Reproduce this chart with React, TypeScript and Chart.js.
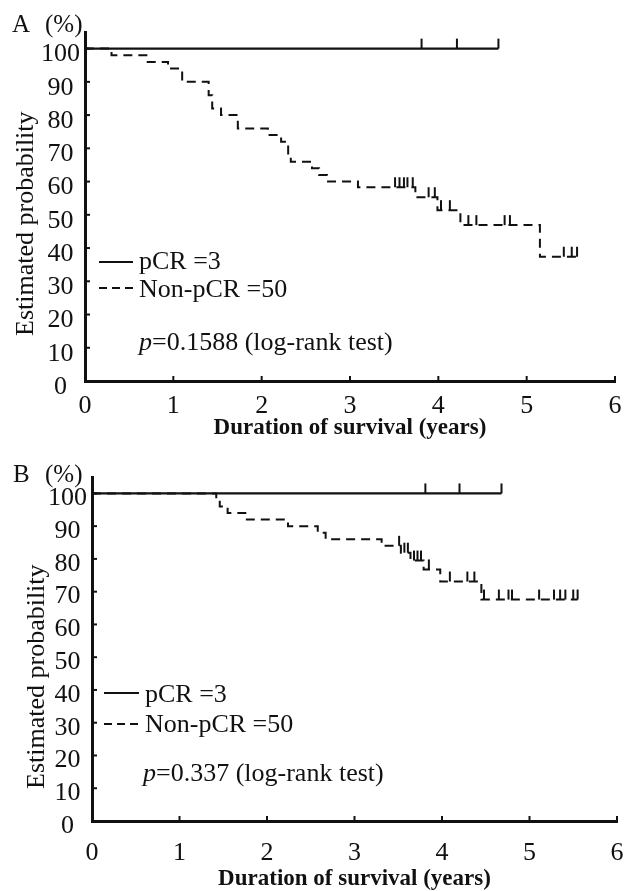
import React, { useEffect, useRef } from 'react';
import { Chart, registerables } from 'chart.js';

Chart.register(...registerables);

// ---------------- data ----------------
const xMin = 0;
const xMax = 6;
const yMin = 0;
const yMax = 105;
const xStep = 1;
const yStep = 10;

const xAxisTitle = 'Duration of survival (years)';
const yAxisTitle = 'Estimated probability';
const legendLabels = ['pCR =3', 'Non-pCR =50'];

// Panel A
const pcrTimesA = [0, 4.68];
const pcrSurvA = [100, 100];
const pcrCensorA = [3.81, 4.21, 4.68];
const nonPcrTimesA = [0, 0.3, 0.71, 0.94, 1.1, 1.4, 1.44, 1.54, 1.73, 2.07, 2.22, 2.3, 2.33, 2.57, 2.65, 2.74, 3.09, 3.74, 3.99, 4.25, 5.15, 5.57];
const nonPcrSurvA = [100, 98, 96, 94, 90, 86, 82, 80, 76, 74, 72, 68, 66, 64, 62, 60, 58.3, 55.3, 51.4, 46.9, 37.4, 37.4];
const nonPcrCensorA = [3.51, 3.56, 3.61, 3.65, 3.71, 3.89, 3.96, 4.03, 4.13, 4.34, 4.43, 4.75, 4.81, 5.42, 5.51, 5.57];
const pValueA = '0.1588';

// Panel B
const pcrTimesB = [0, 4.68];
const pcrSurvB = [100, 100];
const pcrCensorB = [3.81, 4.2, 4.68];
const nonPcrTimesB = [0, 1.42, 1.46, 1.55, 1.77, 2.24, 2.58, 2.67, 3.31, 3.53, 3.64, 3.79, 3.98, 4.45, 5.55];
const nonPcrSurvB = [100, 98, 96, 94, 92, 90, 88, 86, 84, 81.9, 79.5, 76.8, 73.1, 67.6, 67.6];
const nonPcrCensorB = [3.51, 3.57, 3.61, 3.68, 3.72, 3.76, 3.85, 4.09, 4.29, 4.37, 4.48, 4.65, 4.76, 4.8, 5.11, 5.28, 5.35, 5.41, 5.5, 5.55];
const pValueB = '0.337';

// ---------------- styling ----------------
const FONT = '"Liberation Serif", "Times New Roman", serif';
const INK = '#111';
const TXT = 26;

type PanelSpec = {
  letter: string;
  top: number;
  w: number;
  h: number;
  padTop: number;
  padRight: number;
  yWidth: number;
  xHeight: number;
  xTickPad: number;
  titlePad: number;
  yLabelOffset: number;
  pcrTimes: number[];
  pcrSurv: number[];
  pcrCensor: number[];
  nonTimes: number[];
  nonSurv: number[];
  nonCensor: number[];
};

const panelA: PanelSpec = {
  letter: 'A', top: 0, w: 631, h: 445, padTop: 32, padRight: 12, yWidth: 85, xHeight: 64,
  xTickPad: 9.5, titlePad: 5.5, yLabelOffset: 6,
  pcrTimes: pcrTimesA, pcrSurv: pcrSurvA, pcrCensor: pcrCensorA,
  nonTimes: nonPcrTimesA, nonSurv: nonPcrSurvA, nonCensor: nonPcrCensorA,
};
const panelB: PanelSpec = {
  letter: 'B', top: 445, w: 640, h: 446, padTop: 32, padRight: 13, yWidth: 92, xHeight: 70,
  xTickPad: 16.5, titlePad: 0, yLabelOffset: 5,
  pcrTimes: pcrTimesB, pcrSurv: pcrSurvB, pcrCensor: pcrCensorB,
  nonTimes: nonPcrTimesB, nonSurv: nonPcrSurvB, nonCensor: nonPcrCensorB,
};

function survAt(times: number[], surv: number[], t: number) {
  let v = surv[0];
  for (let i = 0; i < times.length; i++) if (times[i] <= t) v = surv[i];
  return v;
}

function curvePoints(times: number[], surv: number[]) {
  return times.map((t, i) => ({ x: t, y: surv[i] }));
}

function censorPoints(times: number[], surv: number[], cens: number[]) {
  return cens.map((t) => ({ x: t, y: survAt(times, surv, t) }));
}

let tickImg: HTMLCanvasElement | null = null;
function getTickImg() {
  if (tickImg) return tickImg;
  const c = document.createElement('canvas');
  c.width = 4;
  c.height = 22;
  const g = c.getContext('2d')!;
  g.fillStyle = INK;
  g.fillRect(1, 1, 2, 10);
  tickImg = c;
  return c;
}

const innerTicks = {
  id: 'innerTicks',
  afterDatasetsDraw(chart: any) {
    const { ctx, chartArea, scales } = chart;
    ctx.save();
    ctx.strokeStyle = INK;
    ctx.lineWidth = 2;
    scales.x.ticks.forEach((t: any) => {
      const px = scales.x.getPixelForValue(t.value);
      ctx.beginPath();
      ctx.moveTo(px, chartArea.bottom);
      ctx.lineTo(px, chartArea.bottom - 5);
      ctx.stroke();
    });
    scales.y.ticks.forEach((t: any) => {
      const py = scales.y.getPixelForValue(t.value);
      ctx.beginPath();
      ctx.moveTo(chartArea.left, py);
      ctx.lineTo(chartArea.left + 5, py);
      ctx.stroke();
    });
    ctx.restore();
  },
};

function buildConfig(p: PanelSpec): any {
  const img = getTickImg();
  const tickFont = { family: FONT, size: TXT };
  return {
    type: 'line',
    data: {
      datasets: [
        {
          label: legendLabels[0],
          data: curvePoints(p.pcrTimes, p.pcrSurv),
          borderColor: INK,
          borderWidth: 2.3,
          stepped: 'before',
          pointRadius: 0,
          fill: false,
          clip: false,
        },
        {
          label: legendLabels[1],
          data: curvePoints(p.nonTimes, p.nonSurv),
          borderColor: INK,
          borderWidth: 2,
          borderDash: [9, 6],
          borderCapStyle: 'butt',
          stepped: 'before',
          pointRadius: 0,
          fill: false,
          clip: false,
        },
        {
          label: 'pCR censored',
          data: censorPoints(p.pcrTimes, p.pcrSurv, p.pcrCensor),
          showLine: false,
          pointStyle: img,
          pointRadius: 3,
          pointHoverRadius: 3,
          clip: false,
        },
        {
          label: 'Non-pCR censored',
          data: censorPoints(p.nonTimes, p.nonSurv, p.nonCensor),
          showLine: false,
          pointStyle: img,
          pointRadius: 3,
          pointHoverRadius: 3,
          clip: false,
        },
      ],
    },
    options: {
      responsive: false,
      animation: false,
      devicePixelRatio: 1,
      events: [],
      layout: { padding: { top: p.padTop, right: p.padRight, left: 0, bottom: 0 } },
      plugins: { legend: { display: false }, tooltip: { enabled: false } },
      scales: {
        x: {
          type: 'linear',
          min: xMin,
          max: xMax,
          ticks: { stepSize: xStep, font: tickFont, color: INK, padding: p.xTickPad, maxRotation: 0 },
          grid: { display: false, drawTicks: false },
          border: { display: true, color: INK, width: 3 },
          title: {
            display: true,
            text: xAxisTitle,
            color: INK,
            font: { family: FONT, size: 23, weight: 'bold', lineHeight: 1 },
            padding: { top: 0, bottom: p.titlePad },
          },
          afterFit: (s: any) => { s.height = p.xHeight; },
        },
        y: {
          type: 'linear',
          min: yMin,
          max: yMax,
          ticks: {
            stepSize: yStep,
            includeBounds: false,
            crossAlign: 'center',
            padding: 5,
            labelOffset: p.yLabelOffset,
            font: tickFont,
            color: INK,
          },
          grid: { display: false, drawTicks: false },
          border: { display: true, color: INK, width: 3 },
          afterFit: (s: any) => { s.width = p.yWidth; },
        },
      },
    },
    plugins: [innerTicks],
  };
}

function Panel({ spec }: { spec: PanelSpec }) {
  const ref = useRef<HTMLCanvasElement>(null);
  useEffect(() => {
    const chart = new Chart(ref.current as HTMLCanvasElement, buildConfig(spec));
    return () => chart.destroy();
  }, [spec]);
  return (
    <canvas
      ref={ref}
      width={spec.w}
      height={spec.h}
      style={{ position: 'absolute', left: 0, top: spec.top, width: spec.w, height: spec.h }}
    />
  );
}

// baseline offset from line-box top for Liberation Serif with line-height = font-size
const BASE_RATIO = 20.9 / 25;

function Txt({ x, baseline, children, size = TXT }: { x: number; baseline: number; children: any; size?: number }) {
  return (
    <div
      style={{
        position: 'absolute',
        left: x,
        top: baseline - BASE_RATIO * size,
        fontSize: size,
        lineHeight: `${size}px`,
        whiteSpace: 'nowrap',
        fontFamily: FONT,
        color: INK,
      }}
    >
      {children}
    </div>
  );
}

function LegendLine({ x1, x2, y, dashed }: { x1: number; x2: number; y: number; dashed?: boolean }) {
  return (
    <svg style={{ position: 'absolute', left: x1, top: y - 3, overflow: 'visible' }} width={x2 - x1} height={6}>
      <line
        x1={0}
        y1={3}
        x2={x2 - x1}
        y2={3}
        stroke={INK}
        strokeWidth={2.2}
        strokeDasharray={dashed ? '8 5' : undefined}
      />
    </svg>
  );
}

function YTitle({ x, yStart }: { x: number; yStart: number }) {
  return (
    <div
      style={{
        position: 'absolute',
        left: x - BASE_RATIO * TXT,
        top: yStart,
        transformOrigin: '0 0',
        transform: 'rotate(-90deg)',
        fontSize: TXT,
        lineHeight: `${TXT}px`,
        whiteSpace: 'nowrap',
        fontFamily: FONT,
        color: INK,
      }}
    >
      {yAxisTitle}
    </div>
  );
}

export default function App() {
  return (
    <div
      style={{
        position: 'absolute',
        left: 0,
        top: 0,
        width: 631,
        height: 891,
        overflow: 'hidden',
        background: '#fff',
      }}
    >
      <Panel spec={panelA} />
      <Panel spec={panelB} />

      {/* Panel A annotations */}
      <Txt x={12} baseline={31.7} size={25}>{panelA.letter}</Txt>
      <Txt x={45} baseline={31.7} size={25}>(%)</Txt>
      <YTitle x={34} yStart={336} />
      <LegendLine x1={99} x2={133} y={262} />
      <Txt x={139} baseline={270}>{legendLabels[0]}</Txt>
      <LegendLine x1={99} x2={133} y={288} dashed />
      <Txt x={139} baseline={298}>{legendLabels[1]}</Txt>
      <Txt x={139} baseline={351}>
        <i>p</i>={pValueA} (log-rank test)
      </Txt>

      {/* Panel B annotations */}
      <Txt x={13} baseline={482} size={25}>{panelB.letter}</Txt>
      <Txt x={45} baseline={482} size={25}>(%)</Txt>
      <YTitle x={45} yStart={789} />
      <LegendLine x1={104} x2={139} y={693} />
      <Txt x={145} baseline={703}>{legendLabels[0]}</Txt>
      <LegendLine x1={104} x2={139} y={724} dashed />
      <Txt x={145} baseline={733}>{legendLabels[1]}</Txt>
      <Txt x={143} baseline={782}>
        <i>p</i>={pValueB} (log-rank test)
      </Txt>
    </div>
  );
}
